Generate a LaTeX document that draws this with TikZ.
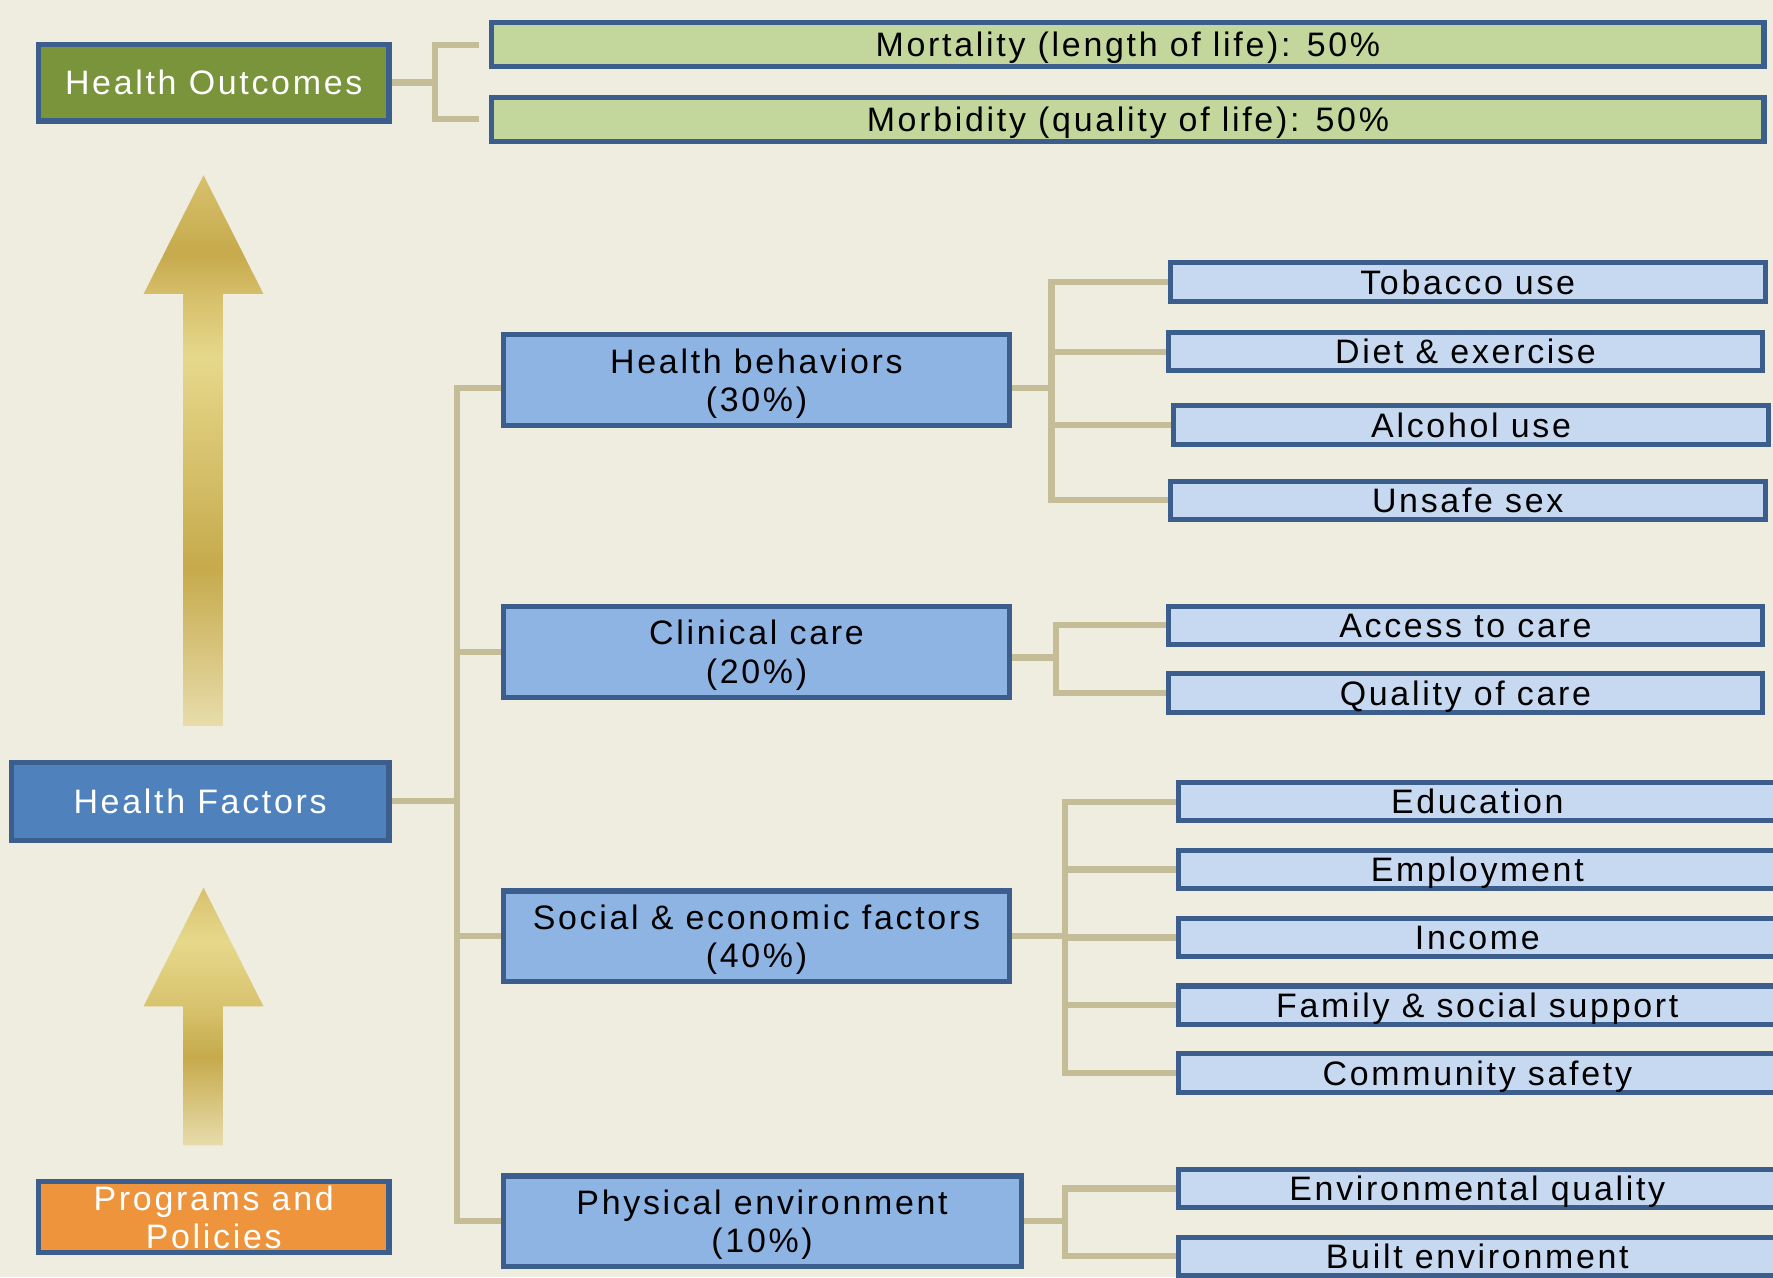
\documentclass[tikz,border=0pt]{standalone}
\usepackage{fontspec}
\setmainfont{Liberation Sans}[LetterSpace=8]
\definecolor{bgcol}{RGB}{239,236,224}
\definecolor{bordblue}{RGB}{59,94,140}
\definecolor{hogreen}{RGB}{122,148,60}
\definecolor{lightgreen}{RGB}{195,214,155}
\definecolor{hfblue}{RGB}{79,129,189}
\definecolor{ppor}{RGB}{237,148,61}
\definecolor{midblue}{RGB}{142,180,227}
\definecolor{subblue}{RGB}{198,217,241}
\definecolor{conncol}{RGB}{196,189,151}
\definecolor{gbot}{RGB}{231,220,171}
\definecolor{gdark}{RGB}{198,170,76}
\definecolor{gmid}{RGB}{213,190,104}
\definecolor{glight}{RGB}{230,216,139}
\definecolor{gtop}{RGB}{215,193,108}
\definecolor{gmed}{RGB}{216,195,110}
\pgfdeclareverticalshading{goldA}{100bp}{color(0bp)=(gbot); color(25bp)=(gbot); color(39.3bp)=(gdark); color(58.5bp)=(glight); color(64.3bp)=(gmid); color(67.9bp)=(gdark); color(75bp)=(gtop); color(100bp)=(gtop)}
\pgfdeclareverticalshading{goldB}{100bp}{color(0bp)=(gbot); color(25bp)=(gbot); color(42.1bp)=(gdark); color(52bp)=(gmed); color(64.7bp)=(glight); color(75bp)=(gtop); color(100bp)=(gtop)}
\pgfdeclarelayer{back}
\pgfdeclarelayer{conns}
\pgfsetlayers{back,conns,main}
\newcommand{\hiline}{\rule{0pt}{28pt}}
\tikzset{
  box/.style={draw=bordblue, line width=4.5pt, inner sep=0pt, align=center,
    font=\fontsize{30}{34}\selectfont},
  oneline/.style={text height=24pt, text depth=2.5pt},
  hobox/.style={box, oneline, fill=hogreen, text=white, minimum width=310pt, minimum height=68pt},
  hfbox/.style={box, oneline, fill=hfblue, text=white, minimum width=334pt, minimum height=69pt},
  ppbox/.style={box, fill=ppor, text=white, minimum width=310pt, minimum height=63pt},
  mortbox/.style={box, oneline, fill=lightgreen, text=black, minimum width=1125pt, minimum height=39pt},
  midbox/.style={box, fill=midblue, text=black, minimum width=448pt, minimum height=80pt},
  subbox/.style={box, oneline, fill=subblue, text=black, minimum width=526pt, minimum height=34pt},
  conn/.style={draw=conncol, line width=5.5pt}
}
\begin{document}
\begin{tikzpicture}[x=1pt,y=-1pt]
\useasboundingbox (0,0) rectangle (1568,1129.35);
\begin{pgfonlayer}{back}
\fill[bgcol] (0,0) rectangle (1568,1129.35);
\end{pgfonlayer}

% upward arrows
\shade[shading=goldA] (180,155) -- (233,260) -- (197,260) -- (197,642) -- (162,642) -- (162,260) -- (127,260) -- cycle;
\shade[shading=goldB] (180,785) -- (233,890) -- (197,890) -- (197,1013) -- (162,1013) -- (162,890) -- (127,890) -- cycle;

% left column
\node[hobox] (ho) at (189,73) {Health Outcomes};
\node[hfbox] (hf) at (177,708.5) {Health Factors};
\node[ppbox] (pp) at (189,1076.5) {Programs and\\Policies};

% outcomes
\node[mortbox] (mort) at (997.5,39.5) {Mortality (length of life): 50\%};
\node[mortbox] (morb) at (997.5,105.5) {Morbidity (quality of life): 50\%};

% factor groups
\node[midbox] (hb) at (669,336) {\hiline Health behaviors\\(30\%)};
\node[midbox] (cc) at (669,576.5) {\hiline Clinical care\\(20\%)};
\node[midbox] (sef) at (669,828) {\hiline Social \& economic factors\\(40\%)};
\node[midbox, minimum width=458pt] (pe) at (674,1080) {\hiline Physical environment\\(10\%)};

% details
\node[subbox] (tob) at (1298,249.5) {Tobacco use};
\node[subbox] (diet) at (1296,311) {Diet \& exercise};
\node[subbox] (alc) at (1301,376) {Alcohol use};
\node[subbox] (uns) at (1298,442.5) {Unsafe sex};
\node[subbox] (acc) at (1296,553) {Access to care};
\node[subbox] (qual) at (1296,613) {Quality of care};
\node[subbox, minimum width=529pt] (edu) at (1306.5,709) {Education};
\node[subbox, minimum width=529pt] (emp) at (1306.5,769) {Employment};
\node[subbox, minimum width=529pt] (inc) at (1306.5,829) {Income};
\node[subbox, minimum width=529pt] (fam) at (1306.5,889) {Family \& social support};
\node[subbox, minimum width=529pt] (com) at (1306.5,949) {Community safety};
\node[subbox, minimum width=529pt] (env) at (1306.5,1051) {Environmental quality};
\node[subbox, minimum width=529pt] (blt) at (1306.5,1111) {Built environment};

\begin{pgfonlayer}{conns}
\coordinate (hoj) at (385,73);
\draw[conn] (ho.east) -- (hoj);
\draw[conn] ([xshift=-9pt]mort.west) -| (hoj);
\draw[conn] ([xshift=-9pt]morb.west) -| (hoj);

\coordinate (trunk) at (404,708.5);
\draw[conn] (hf.east) -- (trunk);
\draw[conn] ([yshift=-7pt]hb.west) -| (trunk);
\draw[conn] (cc.west) -| (trunk);
\draw[conn] (sef.west) -| (trunk);
\draw[conn] (pe.west) -| (trunk);

\coordinate (hbj) at (930,343);
\draw[conn] ([yshift=-7pt]hb.east) -- (hbj);
\foreach \n in {tob,diet,alc,uns} \draw[conn] (\n.west) -| (hbj);

\coordinate (ccj) at (934,581.5);
\draw[conn] ([yshift=-5pt]cc.east) -- (ccj);
\foreach \n in {acc,qual} \draw[conn] (\n.west) -| (ccj);

\coordinate (sefj) at (942,828);
\draw[conn] (sef.east) -- (sefj);
\foreach \n in {edu,emp,inc,fam,com} \draw[conn] (\n.west) -| (sefj);

\coordinate (pej) at (942,1080);
\draw[conn] (pe.east) -- (pej);
\foreach \n in {env,blt} \draw[conn] (\n.west) -| (pej);
\end{pgfonlayer}
\end{tikzpicture}
\end{document}
